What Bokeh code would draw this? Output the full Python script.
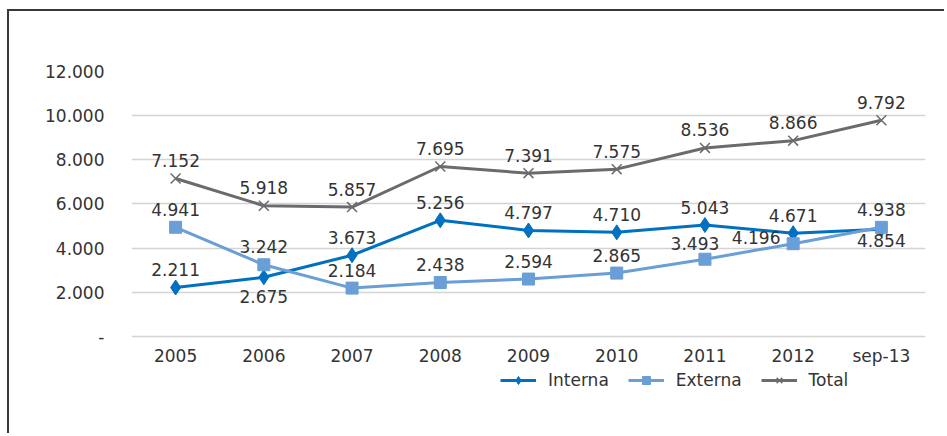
from bokeh.plotting import figure
from bokeh.models import ColumnDataSource, FactorRange, Range1d, FixedTicker, Legend, LegendItem
from bokeh.core.properties import value
from bokeh.embed import file_html
from bokeh.resources import INLINE

categories = ["2005", "2006", "2007", "2008", "2009", "2010", "2011", "2012", "sep-13"]
interna = [2211, 2675, 3673, 5256, 4797, 4710, 5043, 4671, 4854]
externa = [4941, 3242, 2184, 2438, 2594, 2865, 3493, 4196, 4938]
total = [7152, 5918, 5857, 7695, 7391, 7575, 8536, 8866, 9792]
y_ticks = [0, 2000, 4000, 6000, 8000, 10000, 12000]

# label placement per point (style, not data)
interna_place = ["above", "below", "above", "above", "above", "above", "above", "above", "below_near"]
externa_place = ["above", "above", "above", "above", "above", "above", "above_left", "left", "above"]
total_place = ["above"] * 9
OFFS = {"above": (0, -18), "above_left": (-10, -16), "below": (0, 19),
        "below_near": (0, 11), "left": (-37, -6)}

FONT = "DejaVu Sans"
TXT = "#333333"

def fmt(v):
    return f"{v:,}".replace(",", ".")

p = figure(width=937, height=424, x_range=FactorRange(*categories, range_padding=0),
           y_range=Range1d(-3000, 12000), output_backend="svg", toolbar_location=None,
           min_border_left=122, min_border_right=21, min_border_top=60, min_border_bottom=33)
p.styles = {"border-top": "2px solid #383838", "border-left": "2px solid #383838",
            "margin-left": "7px", "margin-top": "9px"}
p.outline_line_color = None
p.background_fill_color = "white"
p.border_fill_color = "white"

p.xgrid.grid_line_color = None
p.ygrid.grid_line_color = "#d4d4d4"
p.ygrid.grid_line_width = 1.5

p.yaxis.ticker = FixedTicker(ticks=y_ticks)
p.yaxis.major_label_overrides = {t: ("-" if t == 0 else fmt(t)) for t in y_ticks}
p.xaxis.fixed_location = 0
for ax in (p.xaxis[0], p.yaxis[0]):
    ax.axis_line_color = None
    ax.major_tick_line_color = None
    ax.minor_tick_line_color = None
    ax.major_tick_out = 0
    ax.major_tick_in = 0
    ax.major_label_text_font = FONT
    ax.major_label_text_font_size = "17px"
    ax.major_label_text_color = TXT
p.yaxis.major_label_standoff = 27
p.xaxis.major_label_standoff = 10

series = [
    ("Interna", interna, interna_place, "#0070C0", "diamond", 15, 1),
    ("Externa", externa, externa_place, "#6A9ED6", "square", 12, 1),
    ("Total", total, total_place, "#6B6B6E", "x", 14, 1.5),
]
items = []
for name, vals, place, color, marker, size, mlw in series:
    src = ColumnDataSource(dict(
        x=categories, y=vals, t=[fmt(v) for v in vals],
        xo=[OFFS[k][0] for k in place], yo=[OFFS[k][1] for k in place]))
    r1 = p.line("x", "y", source=src, line_color=color, line_width=3)
    r2 = p.scatter("x", "y", source=src, marker=marker, size=size, fill_color=color,
                   line_color=color, line_width=mlw)
    p.text("x", "y", text="t", source=src, x_offset="xo", y_offset="yo",
           text_align="center", text_baseline="middle", text_font=value(FONT),
           text_font_size="17px", text_color=TXT)
    items.append(LegendItem(label=name, renderers=[r1, r2]))

legend = Legend(items=items, orientation="horizontal", location=(369, 12),
                glyph_width=36, glyph_height=20, label_standoff=12, spacing=19,
                padding=0, margin=0, border_line_color=None, background_fill_alpha=0,
                label_text_font=FONT, label_text_font_size="17px", label_text_color=TXT)
p.add_layout(legend, "center")

open("out.html", "w").write(file_html(p, INLINE))
